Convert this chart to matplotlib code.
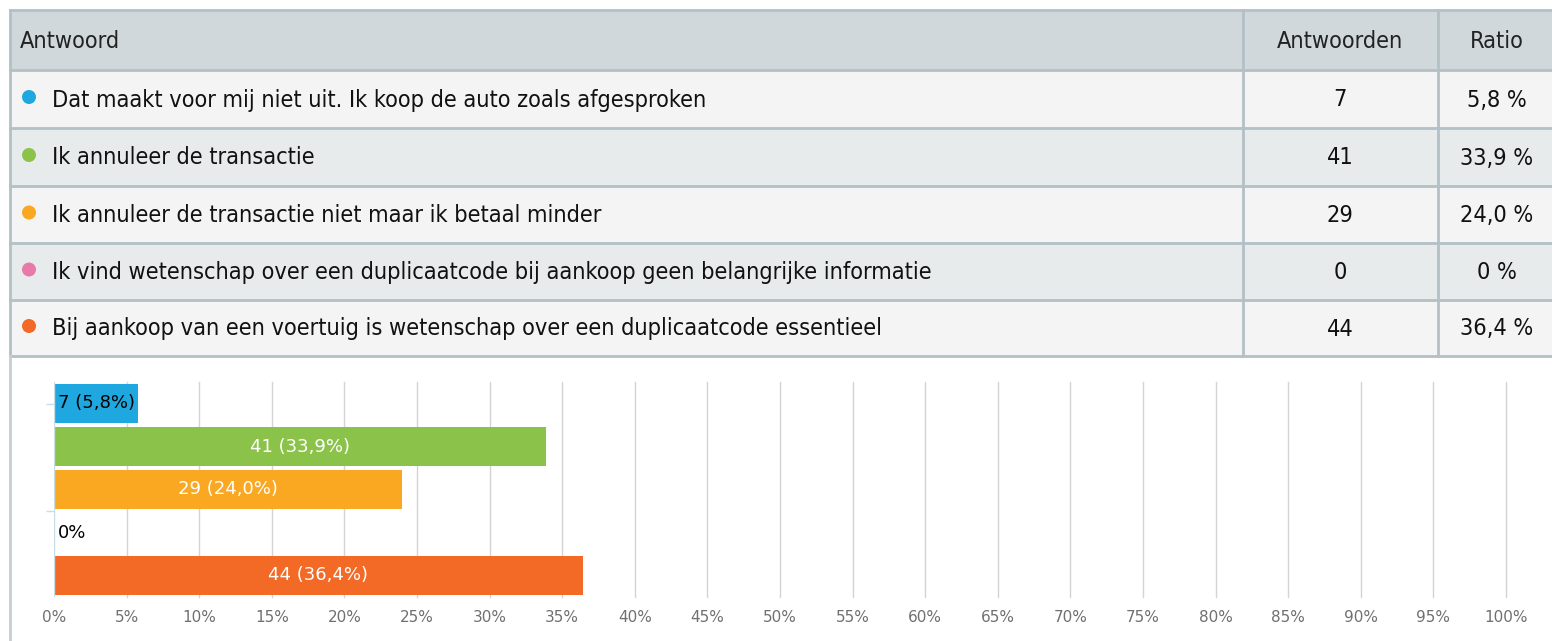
import matplotlib
matplotlib.use("Agg")
import matplotlib.pyplot as plt
from matplotlib.patches import Rectangle, Circle

# data
answers = [
    "Dat maakt voor mij niet uit. Ik koop de auto zoals afgesproken",
    "Ik annuleer de transactie",
    "Ik annuleer de transactie niet maar ik betaal minder",
    "Ik vind wetenschap over een duplicaatcode bij aankoop geen belangrijke informatie",
    "Bij aankoop van een voertuig is wetenschap over een duplicaatcode essentieel",
]
counts = [7, 41, 29, 0, 44]
ratios = [5.8, 33.9, 24.0, 0.0, 36.4]
colors = ["#1fa8e0", "#8bc34a", "#faa822", "#e879a8", "#f26a25"]
headers = ["Antwoord", "Antwoorden", "Ratio"]
ticks = list(range(0, 101, 5))


def fmt(v):
    if v == 0:
        return "0"
    return f"{v:.1f}".replace(".", ",")


W, H = 1552, 641
fig = plt.figure(figsize=(W / 100, H / 100), dpi=100)
fig.patch.set_facecolor("white")

# tabel in pixel-coordinaten
bg = fig.add_axes([0, 0, 1, 1])
bg.set_xlim(0, W)
bg.set_ylim(H, 0)
bg.axis("off")

line_c = "#b3c0c6"
row_edges = [10, 70, 128, 186, 243, 300, 356]
col_x = [10, 1243, 1438, W]
fills = ["#d0d8dc", "#f4f4f4", "#e8ebec", "#f4f4f4", "#e8ebec", "#f4f4f4"]
for i in range(6):
    y0, y1 = row_edges[i], row_edges[i + 1]
    bg.add_patch(Rectangle((10, y0), W - 10, y1 - y0, facecolor=fills[i], edgecolor="none"))
for y in row_edges:
    bg.plot([10, W], [y, y], color=line_c, lw=2)
for x in col_x[:3]:
    bg.plot([x, x], [10, 356], color=line_c, lw=2)
bg.plot([10, 10], [356, H], color="#c4ced3", lw=2)

tkw = dict(fontsize=16.8, family="DejaVu Sans", stretch="condensed", va="center")
mid = [(row_edges[i] + row_edges[i + 1]) / 2 + 1 for i in range(6)]
bg.text(20, mid[0], headers[0], ha="left", color="#222", **tkw)
bg.text(1340, mid[0], headers[1], ha="center", color="#222", **tkw)
bg.text(1497, mid[0], headers[2], ha="center", color="#222", **tkw)
for i, (a, c, r, col) in enumerate(zip(answers, counts, ratios, colors)):
    y = mid[i + 1]
    bg.add_patch(Circle((29, y - 3), 7, facecolor=col, edgecolor="none"))
    bg.text(52, y, a, ha="left", color="#111", **tkw)
    bg.text(1340, y, str(c), ha="center", color="#111", **tkw)
    bg.text(1497, y, fmt(r) + " %", ha="center", color="#111", **tkw)

# staafdiagram
ax = fig.add_axes([54 / W, (H - 597) / H, (1506 - 54) / W, (597 - 382) / H])
ypos = list(range(len(ratios)))
ax.barh(ypos, ratios, height=0.93, color=colors, zorder=2)
ax.set_xlim(0, 100)
ax.set_ylim(4.5, -0.5)
ax.set_xticks(ticks)
ax.set_xticklabels([f"{t}%" for t in ticks], fontsize=11, color="#707070")
ax.tick_params(axis="x", length=0, pad=9)
for t in ticks[1:]:
    ax.axvline(t, color="#d4d4d4", lw=1, zorder=0, clip_on=False)
ax.set_yticks([0, 2.5])
ax.set_yticklabels([])
ax.tick_params(axis="y", length=6, color="#c8dce8", width=1)
for s in ax.spines.values():
    s.set_visible(False)
ax.axvline(0, color="#c8dce8", lw=1, zorder=3)

for y, (c, r) in enumerate(zip(counts, ratios)):
    if r == 0:
        ax.text(0.3, y, "0%", fontsize=13, color="black", va="center", ha="left")
    elif r < 10:
        ax.text(0.3, y, f"{c} ({fmt(r)}%)", fontsize=13, color="black", va="center", ha="left", zorder=4)
    else:
        ax.text(r / 2, y, f"{c} ({fmt(r)}%)", fontsize=13, color="white", va="center", ha="center", zorder=4)

fig.savefig("out.png", dpi=100, facecolor="white")
